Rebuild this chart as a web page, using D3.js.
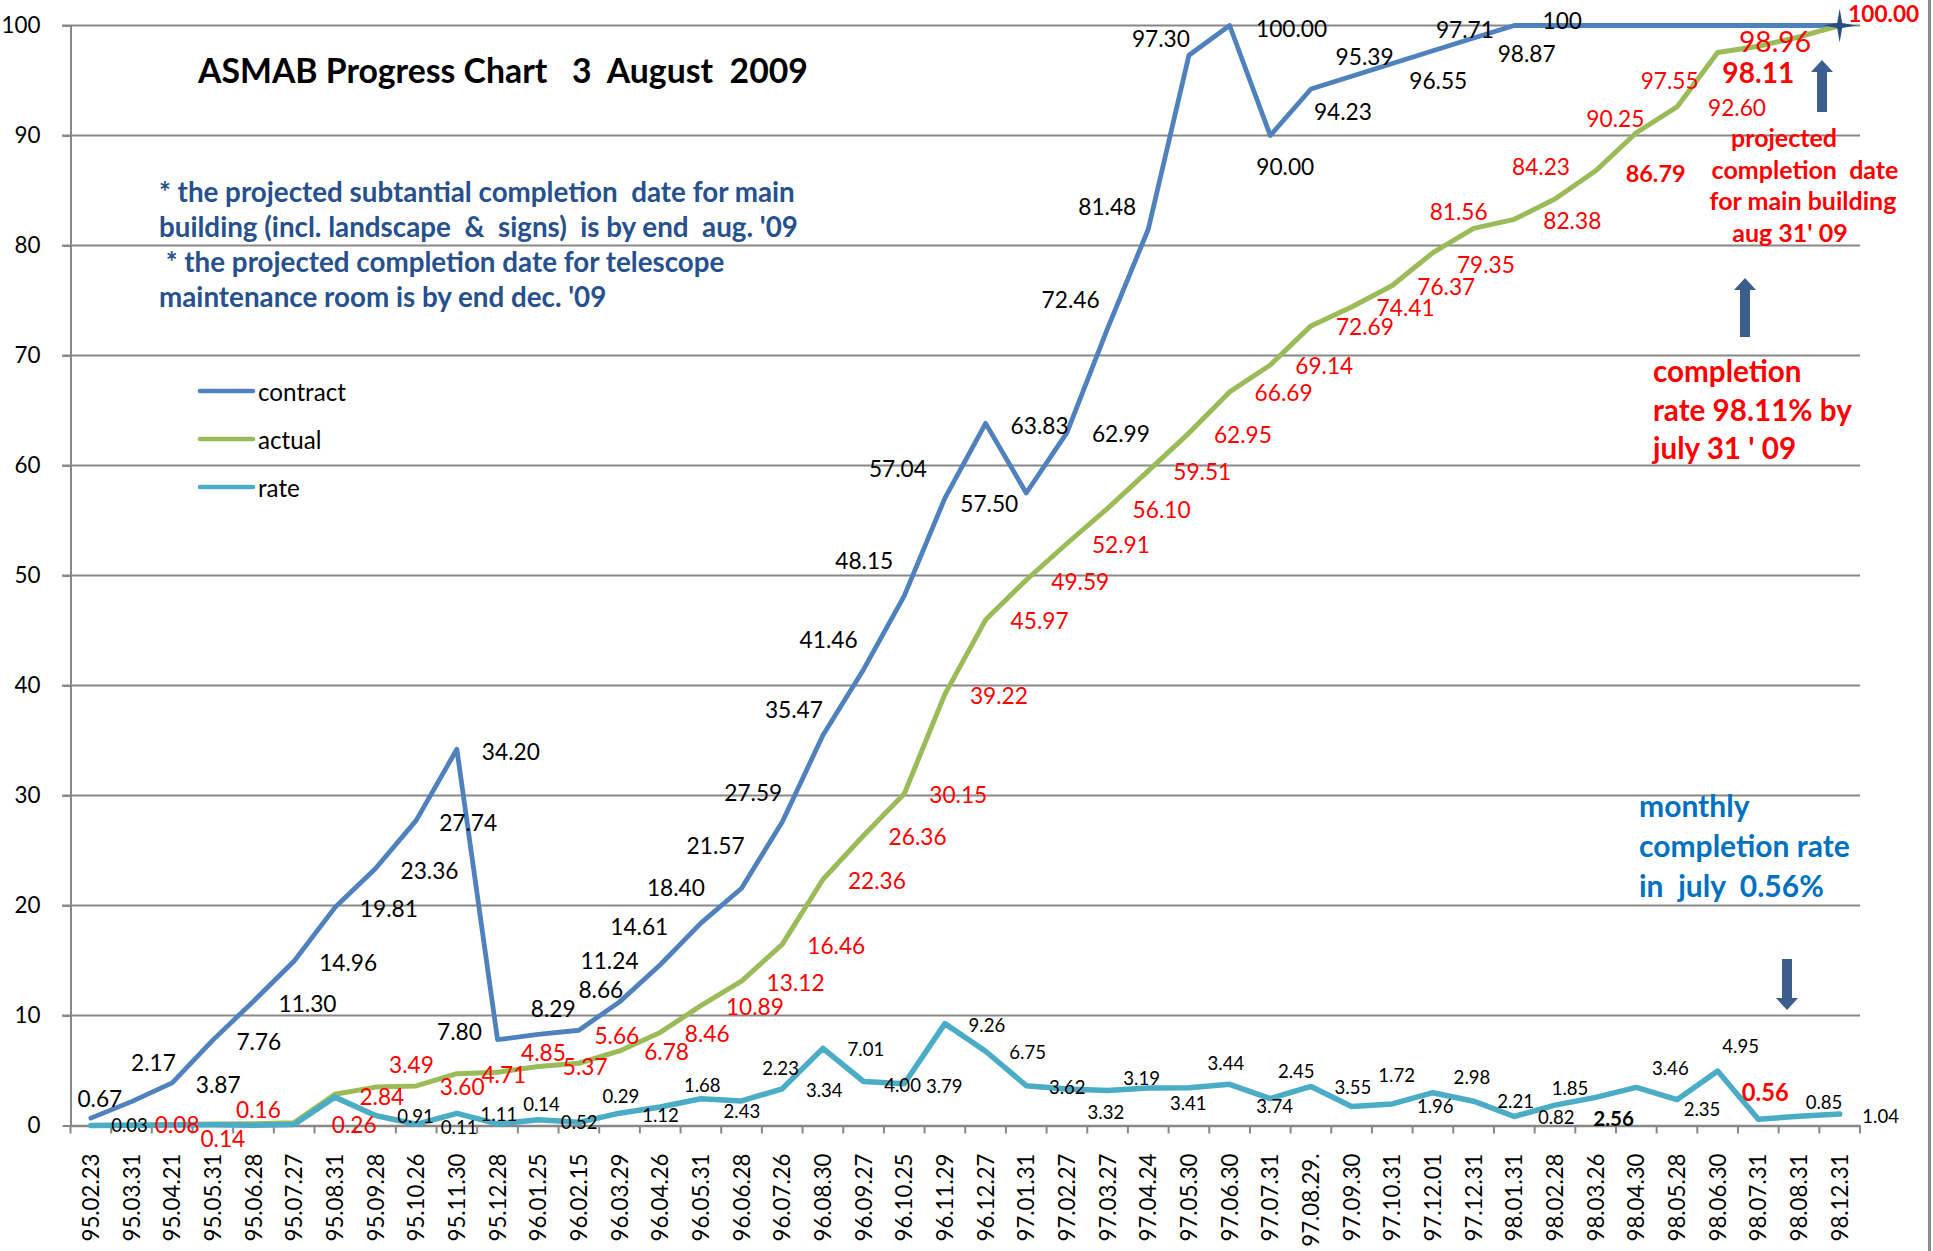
<!DOCTYPE html>
<html>
<head>
<meta charset="utf-8">
<script src="https://cdn.jsdelivr.net/npm/d3@7"></script>
<style>
body { margin: 0; background: #fff; }
text { font-family: Lato, "Open Sans", sans-serif; white-space: pre; }
</style>
</head>
<body>
<script>
// ---- data ----
var categories = ["95.02.23","95.03.31","95.04.21","95.05.31","95.06.28","95.07.27","95.08.31","95.09.28",
  "95.10.26","95.11.30","95.12.28","96.01.25","96.02.15","96.03.29","96.04.26","96.05.31","96.06.28",
  "96.07.26","96.08.30","96.09.27","96.10.25","96.11.29","96.12.27","97.01.31","97.02.27","97.03.27",
  "97.04.24","97.05.30","97.06.30","97.07.31","97.08.29.","97.09.30","97.10.31","97.12.01","97.12.31",
  "98.01.31","98.02.28","98.03.26","98.04.30","98.05.28","98.06.30","98.07.31","98.08.31","98.12.31"];

var contract = [0.67,2.17,3.87,7.76,11.30,14.96,19.81,23.36,27.74,34.20,7.80,8.29,8.66,11.24,14.61,18.40,
  21.57,27.59,35.47,41.46,48.15,57.04,63.83,57.50,62.99,72.46,81.48,97.30,100.00,90.00,94.23,95.39,96.55,
  97.71,98.87,100,100,100,100,100,100,100,100,100];

var actual = [0,0.03,0.08,0.14,0.16,0.26,2.84,3.49,3.60,4.71,4.85,5.37,5.66,6.78,8.46,10.89,13.12,16.46,
  22.36,26.36,30.15,39.22,45.97,49.59,52.91,56.10,59.51,62.95,66.69,69.14,72.69,74.41,76.37,79.35,81.56,
  82.38,84.23,86.79,90.25,92.60,97.55,98.11,98.96,100.00];

var rate = [0,0.03,0.05,0.06,0.02,0.10,2.58,0.91,0.11,1.11,0.14,0.52,0.29,1.12,1.68,2.43,2.23,3.34,7.01,
  4.00,3.79,9.26,6.75,3.62,3.32,3.19,3.41,3.44,3.74,2.45,3.55,1.72,1.96,2.98,2.21,0.82,1.85,2.56,3.46,
  2.35,4.95,0.56,0.85,1.04];

// value labels as printed (null = no label)
var contractLabels = ["0.67","2.17","3.87","7.76","11.30","14.96","19.81","23.36","27.74","34.20","7.80",
  "8.29","8.66","11.24","14.61","18.40","21.57","27.59","35.47","41.46","48.15","57.04","63.83","57.50",
  "62.99","72.46","81.48","97.30","100.00","90.00","94.23","95.39","96.55","97.71","98.87","100",
  null,null,null,null,null,null,null,null];

var actualLabels = [null,null,"0.08","0.14","0.16","0.26","2.84","3.49","3.60","4.71","4.85","5.37","5.66",
  "6.78","8.46","10.89","13.12","16.46","22.36","26.36","30.15","39.22","45.97","49.59","52.91","56.10",
  "59.51","62.95","66.69","69.14","72.69","74.41","76.37","79.35","81.56","82.38","84.23","86.79","90.25",
  "92.60","97.55","98.11","98.96","100.00"];

var rateLabels = [null,"0.03",null,null,null,null,null,"0.91","0.11","1.11","0.14","0.52","0.29","1.12",
  "1.68","2.43","2.23","3.34","7.01","4.00","3.79","9.26","6.75","3.62","3.32","3.19","3.41","3.44","3.74",
  "2.45","3.55","1.72","1.96","2.98","2.21","0.82","1.85","2.56","3.46","2.35","4.95","0.56","0.85","1.04"];

var yTicks = [0,10,20,30,40,50,60,70,80,90,100];
var seriesNames = ["contract","actual","rate"];

// where each value label sits relative to its point (label centre shift, px)
var contractShift = [[9,-20],[22,-39],[46,2],[46,1],[54,2],[54,2],[54,1],[54,2],[52,2],[54,2],[-38,-8],
  [15,-26],[22,-41],[-10,-41],[-21,-38],[-25,-36],[-26,-43],[-29,-30],[-29,-26],[-35,-30],[-40,-35],
  [-47,-30],[54,2],[-37,10],[54,1],[-37,-29],[-41,-23],[-28,-17],[62,3],[15,31],[32,23],[13,-20],[46,17],
  [32,-21],[53,16],[48,-5]];
var actualShift = [null,null,[5,0],[10,15],[5,-14],[60,2],[47,2],[36,-23],[46,1],[47,1],[46,-20],[47,0],
  [38,-28],[47,1],[47,1],[54,1],[54,1],[54,1],[54,1],[54,1],[54,1],[54,1],[54,1],[54,1],[54,1],[54,1],
  [54,1],[54,1],[54,1],[54,1],[54,1],[54,1],[54,1],[53,12],[-15,-17],[58,1],[-14,-32],[60,2],[-21,-14],
  [60,1],[-48,28],[0,26],[-24,4],[44,-12]];
var rateShift = [null,[-2,0],null,null,null,null,null,[40,1],[43,3],[42,1],[44,-20],[41,2],[42,-26],
  [41,2],[42,-22],[41,12],[39,-33],[42,1],[43,1],[39,3],[40,2],[42,1],[42,1],[41,1],[39,23],[34,-12],
  [40,15],[37,-25],[45,22],[26,-28],[42,1],[45,-32],[43,2],[39,-16],[42,0],[42,1],[15,-17],[18,21],
  [34,-19],[25,9],[23,-25],[7,-27],[25,-14],[41,2]];

var colors = {contract: "#4F81BD", actual: "#9BBB59", rate: "#4BACC6"};
var gridColor = "#888888";

var W = 1933, H = 1251;
var svg = d3.select("body").append("svg")
    .attr("width", W)
    .attr("height", H)
    .style("display", "block");

// helper: font size giving a sample string a wanted width
var meas = svg.append("text").attr("x", -5000).attr("y", -5000).style("font-size", "100px");
function fitSize(sample, width, weight) {
    meas.style("font-weight", weight || "normal").text(sample);
    return 100 * width / meas.node().getComputedTextLength();
}

var x = d3.scaleBand().domain(categories).range([70.5, 1860]);
var y = d3.scaleLinear().domain([0, 100]).range([1125.5, 25.5]);
function px(i) { return x(categories[i]) + x.bandwidth() / 2; }

// gridlines
svg.append("g").selectAll("line")
    .data(yTicks.slice(1))
    .join("line")
    .attr("x1", 62).attr("x2", 1860)
    .attr("y1", d => y(d)).attr("y2", d => y(d))
    .attr("stroke", gridColor).attr("stroke-width", 2);

// y axis
var ySize = fitSize("100", 39);
var gy = svg.append("g")
    .attr("transform", "translate(70.5,0)")
    .call(d3.axisLeft(y).tickValues(yTicks).tickSize(8).tickSizeOuter(0).tickPadding(22).tickFormat(d3.format("d")));
gy.select(".domain").attr("stroke", gridColor).attr("stroke-width", 2);
gy.selectAll(".tick line").attr("stroke", gridColor).attr("stroke-width", 2);
gy.selectAll(".tick text").style("font-size", ySize + "px").style("font-family", null).attr("fill", "#000");

// x axis
var xSize = fitSize("95.02.23", 88);
var gx = svg.append("g")
    .attr("transform", "translate(0,1125.5)")
    .call(d3.axisBottom(x).tickSize(0).tickSizeOuter(0));
gx.select(".domain").attr("stroke", gridColor).attr("stroke-width", 2.5);
gx.selectAll(".tick text")
    .attr("transform", "rotate(-90)")
    .attr("x", -28).attr("y", 0).attr("dy", "0.36em")
    .style("text-anchor", "end")
    .style("font-size", xSize + "px")
    .style("font-family", null)
    .attr("fill", "#000");
gx.selectAll("line.bound")
    .data(d3.range(categories.length + 1))
    .join("line")
    .attr("class", "bound")
    .attr("x1", d => x.range()[0] + d * x.step())
    .attr("x2", d => x.range()[0] + d * x.step())
    .attr("y1", 0).attr("y2", 8)
    .attr("stroke", gridColor).attr("stroke-width", 2);

// lines
var line = d3.line().x((d, i) => px(i)).y(d => y(d));
[["contract", contract, 4.8], ["actual", actual, 5], ["rate", rate, 5.5]].forEach(function(s) {
    svg.append("path")
        .datum(s[1])
        .attr("fill", "none")
        .attr("stroke", colors[s[0]])
        .attr("stroke-width", s[2])
        .attr("stroke-linejoin", "round")
        .attr("stroke-linecap", "round")
        .attr("d", line);
});

// four point star on the last actual point
var star = d3.range(8).map(function(k) {
    var a = k * Math.PI / 4 - Math.PI / 2, r = k % 2 ? 3.5 : 17;
    return [r * Math.cos(a), r * Math.sin(a)];
});
var last = actual.length - 1;
svg.append("path")
    .attr("d", d3.line().curve(d3.curveLinearClosed)(star))
    .attr("transform", "translate(" + px(last) + "," + y(actual[last]) + ")")
    .attr("fill", "#2A4C86");

// value labels
var lblSize = fitSize("27.59", 58);
var rateSize = fitSize("9.26", 36.7);
function addLabels(values, texts, shifts, fill, size, special) {
    var rows = [];
    texts.forEach(function(t, i) {
        if (t == null || !shifts[i]) return;
        var sp = special[i] || {};
        rows.push({t: t, x: px(i) + shifts[i][0], y: y(values[i]) + shifts[i][1],
                   size: sp.size || size, weight: sp.weight || "normal", fill: sp.fill || fill});
    });
    svg.append("g").selectAll("text")
        .data(rows)
        .join("text")
        .attr("x", d => d.x).attr("y", d => d.y)
        .attr("text-anchor", "middle")
        .attr("dominant-baseline", "central")
        .style("font-size", d => d.size + "px")
        .style("font-weight", d => d.weight)
        .attr("fill", d => d.fill)
        .text(d => d.t);
}
addLabels(contract, contractLabels, contractShift, "#000", lblSize, {});
addLabels(actual, actualLabels, actualShift, "#FF0000", lblSize, {
    37: {weight: "bold", size: fitSize("86.79", 60, "bold")},
    41: {weight: "bold", size: fitSize("98.11", 72, "bold")},
    42: {size: fitSize("98.96", 72)},
    43: {weight: "bold", size: fitSize("100.00", 71, "bold")}
});
addLabels(rate, rateLabels, rateShift, "#000", rateSize, {
    37: {weight: "bold", size: fitSize("2.56", 41, "bold")},
    41: {weight: "bold", fill: "#FF0000", size: fitSize("0.56", 47, "bold")}
});

// legend
var legSize = fitSize("contract", 88);
var leg = svg.append("g").selectAll("g")
    .data(seriesNames)
    .join("g")
    .attr("transform", (d, i) => "translate(200," + (391 + i * 48) + ")");
leg.append("line")
    .attr("x1", 0).attr("x2", 53)
    .attr("stroke", d => colors[d]).attr("stroke-width", 4.5).attr("stroke-linecap", "round");
leg.append("text")
    .attr("x", 58).attr("dominant-baseline", "central")
    .style("font-size", legSize + "px")
    .text(d => d);

// text blocks
function block(lines, x0, y0, step, anchor, fill, size) {
    svg.append("g").selectAll("text")
        .data(lines)
        .join("text")
        .attr("x", (d, i) => Array.isArray(x0) ? x0[i] : x0)
        .attr("y", (d, i) => y0 + i * step)
        .attr("text-anchor", anchor)
        .style("font-size", size + "px")
        .style("font-weight", "bold")
        .attr("fill", fill)
        .text(d => d);
}

var title = "ASMAB Progress Chart   3  August  2009";
block([title], 198, 83, 0, "start", "#000", fitSize(title, 610, "bold"));

var notes = ["* the projected subtantial completion  date for main",
             "building (incl. landscape  &  signs)  is by end  aug. '09",
             " * the projected completion date for telescope",
             "maintenance room is by end dec. '09"];
block(notes, 159, 202, 35, "start", "#26508E", fitSize(notes[0], 636, "bold"));

var projected = ["projected", "completion  date", "for main building", "aug 31' 09"];
block(projected, [1784, 1805, 1803, 1790], 147, 31.7, "middle", "#FF0000", fitSize(projected[1], 187, "bold"));

var compRate = ["completion", "rate 98.11% by", "july 31 ' 09"];
block(compRate, 1653, 382, 38.7, "start", "#FF0000", fitSize(compRate[1], 199, "bold"));

var monthly = ["monthly", "completion rate", "in  july  0.56%"];
block(monthly, 1639, 817, 40, "start", "#0070C0", fitSize(monthly[1], 211, "bold"));

// block arrows
function arrow(cx, top, bottom, up) {
    var sw = 5, hw = 11, hh = 12, p;
    if (up) {
        p = [[cx, top], [cx + hw, top + hh], [cx + sw, top + hh], [cx + sw, bottom],
             [cx - sw, bottom], [cx - sw, top + hh], [cx - hw, top + hh]];
    } else {
        p = [[cx, bottom], [cx + hw, bottom - hh], [cx + sw, bottom - hh], [cx + sw, top],
             [cx - sw, top], [cx - sw, bottom - hh], [cx - hw, bottom - hh]];
    }
    svg.append("path")
        .attr("d", d3.line().curve(d3.curveLinearClosed)(p))
        .attr("fill", "#3B5E8C");
}
arrow(1822, 60, 112, true);
arrow(1745, 278, 337, true);
arrow(1787, 959, 1010, false);

// chart area edge on the right
svg.append("line")
    .attr("x1", 1929.5).attr("x2", 1929.5).attr("y1", 0).attr("y2", H)
    .attr("stroke", "#8C8C8C").attr("stroke-width", 3);

meas.remove();
</script>
</body>
</html>
